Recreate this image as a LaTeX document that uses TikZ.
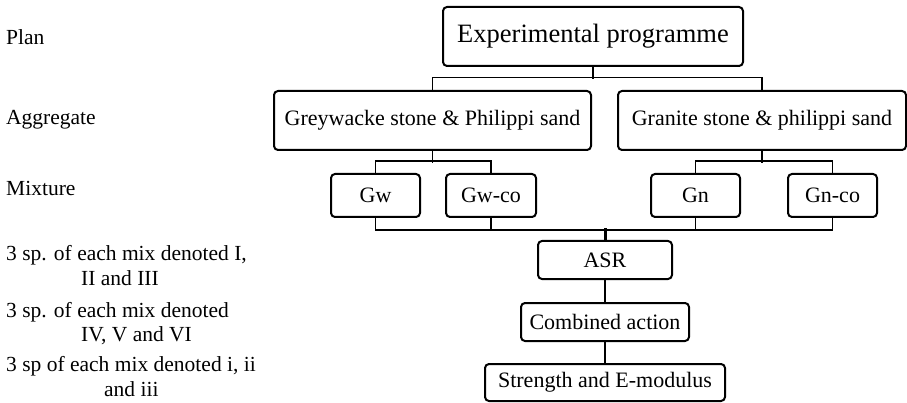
\documentclass[tikz,border=0pt]{standalone}
\usepackage{fontspec}
\setmainfont{Liberation Serif}
\usepackage{tikz}
\usetikzlibrary{positioning}

\begin{document}
\begin{tikzpicture}[x=1pt, y=-1pt,
    box/.style = {draw, rounded corners=4pt, line width=2pt, inner sep=0pt,
                  font=\fontsize{22}{25}\selectfont},
    link/.style = {line width=1.6pt},
    lbl/.style = {anchor=west, align=left, inner sep=0pt,
                  font=\fontsize{21.5}{24.5}\selectfont}]
    \useasboundingbox (0,0) rectangle (907,403);

    % levels on the left
    \node[lbl] (plan) at (6,37)    {Plan};
    \node[lbl] (agg)  at (6,120)   {Aggregate};
    \node[lbl] (mix)  at (6,188)   {Mixture};
    \node[lbl] (spa)  at (6,265.5) {3 sp. of each mix denoted I,\\\hspace*{75pt}II and III};
    \node[lbl] (spb)  at (6,323.5) {3 sp. of each mix denoted\\\hspace*{75pt}IV, V and VI};
    \node[lbl] (spc)  at (6,376.5) {3 sp of each mix denoted i, ii\\\hspace*{98pt}and iii};

    % tree
    \node[box, minimum width=300pt, minimum height=59pt, font=\fontsize{26.5}{30}\selectfont]
        (prog) at (593,36.5) {Experimental programme};
    \node[box, minimum width=317pt, minimum height=59pt] (grey) at (432.5,120.5) {Greywacke stone \& Philippi sand};
    \node[box, minimum width=288pt, minimum height=59pt] (gran) at (762,120.5)   {Granite stone \& philippi sand};

    \node[box, minimum width=89pt, minimum height=43pt] (gw)   at (375.5,195.5) {Gw};
    \node[box, minimum width=90pt, minimum height=43pt] (gwco) at (491,195.5)   {Gw-co};
    \node[box, minimum width=89pt, minimum height=43pt] (gn)   at (695.5,195.5) {Gn};
    \node[box, minimum width=89pt, minimum height=43pt] (gnco) at (832.5,195.5) {Gn-co};

    \node[box, minimum width=134pt, minimum height=38pt] (asr)  at (605,260) {ASR};
    \node[box, minimum width=168pt, minimum height=38pt] (comb) at (605,322) {Combined action};
    \node[box, minimum width=240pt, minimum height=37pt] (str)  at (605,382.5) {Strength and E-modulus};

    \draw[link] (prog.south) -- ++(0,12.5);
    \draw[link] (grey.north) -- ++(0,-12.5) -| (gran.north);

    \draw[link] (grey.south) -- ++(0,12);
    \draw[link] (gw.north) -- ++(0,-12) -| (gwco.north);
    \draw[link] (gran.south) -- ++(0,12);
    \draw[link] (gn.north) -- ++(0,-12) -| (gnco.north);

    \draw[link] (gw.south) -- ++(0,12) -| (gnco.south);
    \draw[link] (gwco.south) -- ++(0,12);
    \draw[link] (gn.south) -- ++(0,12);
    \draw[line width=3pt] (asr.north) -- ++(0,-12);

    \draw[link] (asr) -- (comb);
    \draw[link] (comb) -- (str);
\end{tikzpicture}
\end{document}
